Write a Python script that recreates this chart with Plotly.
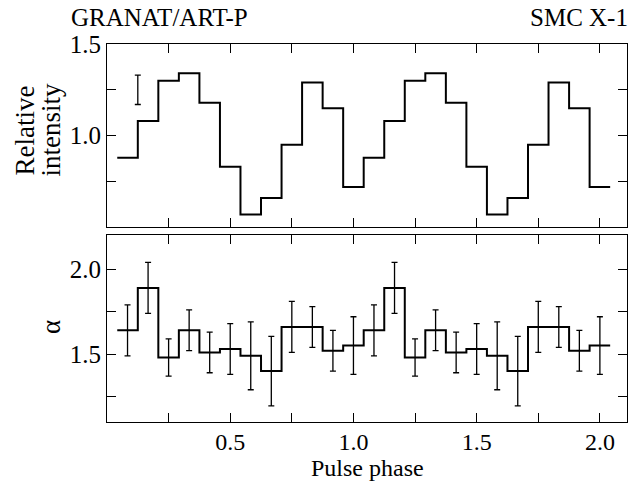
import plotly.graph_objects as go

# Pulse phase bin centres (12 bins per period, two periods shown)
phase = [0.0833, 0.1667, 0.2500, 0.3333, 0.4167, 0.5000, 0.5833, 0.6667,
         0.7500, 0.8333, 0.9167, 1.0000, 1.0833, 1.1667, 1.2500, 1.3333,
         1.4167, 1.5000, 1.5833, 1.6667, 1.7500, 1.8333, 1.9167, 2.0000]

# Relative intensity pulse profile
intensity = [0.88, 1.08, 1.30, 1.34, 1.18, 0.83, 0.57, 0.66, 0.95, 1.29, 1.15, 0.72,
             0.88, 1.08, 1.30, 1.34, 1.18, 0.83, 0.57, 0.66, 0.95, 1.29, 1.15, 0.72]

# Typical uncertainty of the intensity profile
typ_err_phase = 0.125
typ_err_value = 1.25
typ_err_size = 0.08

# Photon index alpha and its uncertainty
alpha = [1.64, 1.89, 1.48, 1.64, 1.51, 1.53, 1.49, 1.40, 1.66, 1.66, 1.52, 1.55,
         1.64, 1.89, 1.48, 1.64, 1.51, 1.53, 1.49, 1.40, 1.66, 1.66, 1.52, 1.55]
alpha_err = [0.15, 0.15, 0.11, 0.12, 0.12, 0.15, 0.20, 0.205, 0.15, 0.12, 0.12, 0.17,
             0.15, 0.15, 0.11, 0.12, 0.12, 0.15, 0.20, 0.205, 0.15, 0.12, 0.12, 0.17]

# Tick positions and labels
x_ticks = [0.25, 0.5, 0.75, 1.0, 1.25, 1.5, 1.75, 2.0]
x_labels = ["", "0.5", "", "1.0", "", "1.5", "", "2.0"]
y1_ticks = [0.75, 1.0, 1.25, 1.5]
y1_labels = ["", "1.0", "", "1.5"]
y2_ticks = [1.25, 1.5, 1.75, 2.0]
y2_labels = ["", "1.5", "", "2.0"]

FONT = "Liberation Serif, Times New Roman, serif"
TXT = 25

# Histogram-style steps: bin edges from the bin centres
half = (phase[1] - phase[0]) / 2
edges = [p - half for p in phase] + [phase[-1] + half]

fig = go.Figure()
fig.add_trace(go.Scatter(x=edges, y=intensity + [intensity[-1]], mode="lines",
                         line=dict(shape="hv", color="black", width=2),
                         xaxis="x", yaxis="y", showlegend=False))
fig.add_trace(go.Scatter(x=[typ_err_phase], y=[typ_err_value], mode="markers",
                         marker=dict(size=1, color="rgba(0,0,0,0)"),
                         error_y=dict(type="data", array=[typ_err_size], width=3,
                                      thickness=1.3, color="black"),
                         xaxis="x", yaxis="y", showlegend=False))
fig.add_trace(go.Scatter(x=edges, y=alpha + [alpha[-1]], mode="lines",
                         line=dict(shape="hv", color="black", width=2),
                         xaxis="x2", yaxis="y2", showlegend=False))
fig.add_trace(go.Scatter(x=phase, y=alpha, mode="markers",
                         marker=dict(size=1, color="rgba(0,0,0,0)"),
                         error_y=dict(type="data", array=alpha_err, width=3,
                                      thickness=1.3, color="black"),
                         xaxis="x2", yaxis="y2", showlegend=False))

axis_common = dict(showline=True, linecolor="black", linewidth=1, mirror="ticks",
                   ticks="inside", ticklen=9, tickwidth=1, tickcolor="black",
                   showgrid=False, zeroline=False,
                   tickfont=dict(family=FONT, size=TXT, color="black"))


def label(text, x, y, angle=0, xanchor="center", yshift=0, size=TXT):
    return dict(text=text, xref="paper", yref="paper", x=x, y=y,
                xanchor=xanchor, yanchor="middle", yshift=yshift,
                textangle=angle, showarrow=False,
                font=dict(family=FONT, size=size, color="black"))


fig.update_layout(
    width=636, height=483,
    margin=dict(l=107, r=9, t=44, b=61),
    paper_bgcolor="white", plot_bgcolor="white",
    font=dict(family=FONT, color="black"),
    xaxis=dict(axis_common, domain=[0, 1], range=[0, 2.11], anchor="y",
               tickmode="array", tickvals=x_ticks, ticktext=[""] * len(x_ticks)),
    yaxis=dict(axis_common, domain=[0.515, 1], range=[0.5, 1.5], anchor="x",
               tickmode="array", tickvals=y1_ticks, ticktext=y1_labels),
    xaxis2=dict(axis_common, domain=[0, 1], range=[0, 2.11], anchor="y2",
                tickmode="array", tickvals=x_ticks, ticktext=x_labels,
                tickfont=dict(family=FONT, size=24, color="black"),
                ticklabelstandoff=-2),
    yaxis2=dict(axis_common, domain=[0, 0.494], range=[1.1, 2.2], anchor="x2",
                tickmode="array", tickvals=y2_ticks, ticktext=y2_labels),
    annotations=[
        label("GRANAT/ART-P", -0.074, 1, xanchor="left", yshift=27),
        label("SMC X-1", 1.006, 1, xanchor="right", yshift=27),
        label("Pulse phase", 0.5, 0, yshift=-46, size=24),
        label("Relative", -0.157, 0.772, angle=-90, size=27),
        label("intensity", -0.107, 0.772, angle=-90, size=27),
        label("α", -0.108, 0.251, angle=-90, size=27),
    ],
)

fig.write_html("out.html")
